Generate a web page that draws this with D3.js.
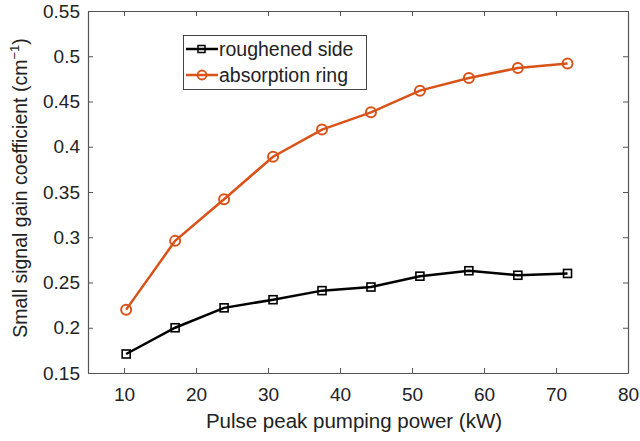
<!DOCTYPE html>
<html><head><meta charset="utf-8">
<script src="https://cdn.jsdelivr.net/npm/d3@7"></script>
<style>body{margin:0;background:#fff}svg{display:block}text{font-family:"Liberation Sans",Arial,sans-serif;fill:#222}</style>
</head><body><svg id="c" width="640" height="441"></svg>
<script>
const power = [10.3, 17.1, 23.9, 30.7, 37.5, 44.3, 51.1, 57.9, 64.7, 71.6];
const roughened = [0.171, 0.200, 0.222, 0.231, 0.241, 0.245, 0.257, 0.263, 0.258, 0.260];
const absorption = [0.220, 0.296, 0.342, 0.389, 0.419, 0.438, 0.462, 0.476, 0.487, 0.492];
const xTicks = [10, 20, 30, 40, 50, 60, 70, 80];
const yTicks = [0.15, 0.2, 0.25, 0.3, 0.35, 0.4, 0.45, 0.5, 0.55];
const seriesNames = ["roughened side", "absorption ring"];
const colors = ["#000000", "#D95319"];

const svg = d3.select("#c");
const L = 88, R = 628, T = 11, B = 373;
const x = d3.scaleLinear().domain([5, 80]).range([L, R]);
const y = d3.scaleLinear().domain([0.15, 0.55]).range([B, T]);
const axisCol = "#555";
const tl = 5;

const fmt = d => String(+d.toFixed(2));
const gx = svg.append("g").attr("transform", `translate(0,${B})`)
  .call(d3.axisBottom(x).tickValues(xTicks).tickSizeInner(-tl).tickSizeOuter(0).tickPadding(15).tickFormat(d3.format("d")));
const gxt = svg.append("g").attr("transform", `translate(0,${T})`)
  .call(d3.axisTop(x).tickValues(xTicks).tickSizeInner(-tl).tickSizeOuter(0).tickFormat(""));
const gy = svg.append("g").attr("transform", `translate(${L},0)`)
  .call(d3.axisLeft(y).tickValues(yTicks).tickSizeInner(-tl).tickSizeOuter(0).tickPadding(8).tickFormat(fmt));
const gyr = svg.append("g").attr("transform", `translate(${R},0)`)
  .call(d3.axisRight(y).tickValues(yTicks).tickSizeInner(-tl).tickSizeOuter(0).tickFormat(""));
[gx, gxt, gy, gyr].forEach(g => {
  g.select(".domain").attr("stroke", axisCol).attr("stroke-width", 1.2);
  g.selectAll(".tick line").attr("stroke", axisCol);
  g.selectAll(".tick text").attr("font-size", 19).attr("fill", "#222").attr("font-family", "Liberation Sans, Arial, sans-serif");
});

const line = d3.line().x((d, i) => x(power[i])).y(d => y(d));
const data = [roughened, absorption];
data.forEach((s, k) => {
  svg.append("path").datum(s).attr("d", line).attr("fill", "none")
    .attr("stroke", colors[k]).attr("stroke-width", 2.5);
  if (k === 0) {
    svg.selectAll(null).data(s).enter().append("rect")
      .attr("x", (d, i) => x(power[i]) - 4).attr("y", d => y(d) - 4)
      .attr("width", 8).attr("height", 8).attr("fill", "none").attr("stroke", colors[k]).attr("stroke-width", 1.6);
  } else {
    svg.selectAll(null).data(s).enter().append("circle")
      .attr("cx", (d, i) => x(power[i])).attr("cy", d => y(d)).attr("r", 5)
      .attr("fill", "none").attr("stroke", colors[k]).attr("stroke-width", 2);
  }
});

// legend
const lg = svg.append("g");
lg.append("rect").attr("x", 183.5).attr("y", 35.5).attr("width", 183).attr("height", 54)
  .attr("fill", "#fff").attr("stroke", "#444").attr("stroke-width", 1);
seriesNames.forEach((n, k) => {
  const yy = 49 + k * 26;
  lg.append("line").attr("x1", 186).attr("x2", 218).attr("y1", yy).attr("y2", yy)
    .attr("stroke", colors[k]).attr("stroke-width", 2.5);
  if (k === 0) lg.append("rect").attr("x", 198).attr("y", yy - 3.5).attr("width", 7).attr("height", 7)
    .attr("fill", "none").attr("stroke", colors[k]).attr("stroke-width", 1.5);
  else lg.append("circle").attr("cx", 202).attr("cy", yy).attr("r", 4.5)
    .attr("fill", "none").attr("stroke", colors[k]).attr("stroke-width", 1.8);
  lg.append("text").attr("x", 219).attr("y", yy + 7).attr("font-size", 19.5).text(n);
});

// axis labels
svg.append("text").attr("x", 354).attr("y", 428).attr("text-anchor", "middle")
  .attr("font-size", 20.5).text("Pulse peak pumping power (kW)");
const yl = svg.append("text").attr("transform", `translate(27,188) rotate(-90)`)
  .attr("text-anchor", "middle").attr("font-size", 19.5);
yl.append("tspan").text("Small signal gain coefficient (cm");
yl.append("tspan").attr("dy", -8).attr("font-size", 13).text("−1");
yl.append("tspan").attr("dy", 8).text(")");
</script></body></html>
